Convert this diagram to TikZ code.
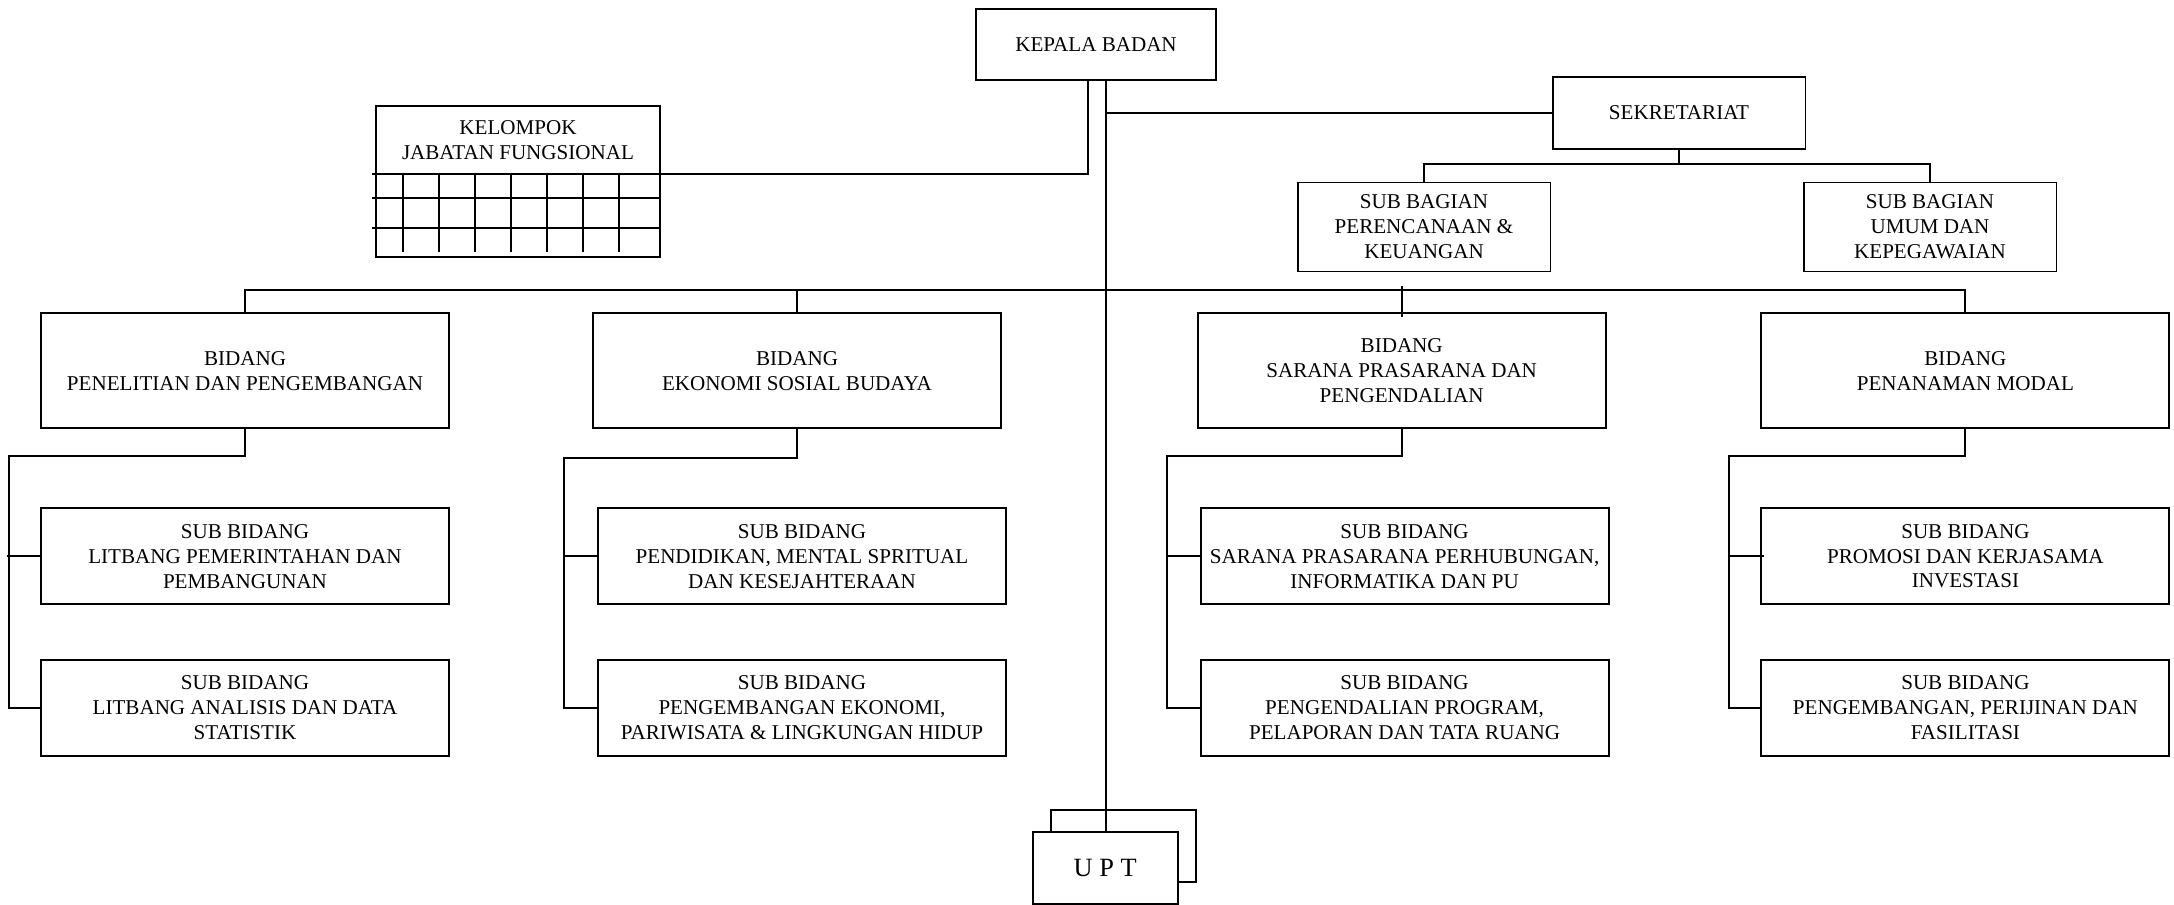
\documentclass[tikz,border=0pt]{standalone}
\usepackage{fontspec}
\setmainfont{Liberation Serif}
\usetikzlibrary{calc}

\begin{document}
\begin{tikzpicture}[x=0.02cm, y=-0.02cm,
    box/.style={draw, line width=1.1pt, outer sep=0pt, inner sep=1pt, fill=white, align=center, font=\fontsize{12}{14.2}\selectfont},
    bidbox/.style={box, minimum width=8.16cm, minimum height=2.3cm},
    subbox/.style={box, minimum width=8.16cm, minimum height=1.92cm},
    bagbox/.style={box, minimum width=5.06cm, minimum height=1.78cm},
    uptbox/.style={box, minimum width=2.9cm, minimum height=1.44cm, font=\fontsize{15}{18}\selectfont},
    link/.style={line width=1.1pt}]

    \useasboundingbox (0,0) rectangle (2174,904);

    \node[box, minimum width=4.8cm, minimum height=1.42cm] (kepala) at (1096,44.5) {KEPALA BADAN};
    \node[box, minimum width=5.06cm, minimum height=1.45cm] (sekretariat) at (1679,113) {SEKRETARIAT};
    \node[bagbox] (bagrenc) at (1424,227) {SUB BAGIAN\\PERENCANAAN \&\\KEUANGAN};
    \node[bagbox] (bagumum) at (1930,227) {SUB BAGIAN\\UMUM DAN\\KEPEGAWAIAN};
    \node[box, minimum width=5.69cm, minimum height=1.36cm] (kelompok) at (518,140) {KELOMPOK\\JABATAN FUNGSIONAL};

    \draw[link] (kelompok.south west) rectangle ($(kelompok.south east)+(0,82.7)$);
    \foreach \y in {24,53.7}
        \draw[link] ($(kelompok.south west)+(-4,\y)$) -- ($(kelompok.south east)+(0,\y)$);
    \foreach \x in {27,63,...,243}
        \draw[link] ($(kelompok.south west)+(\x,0)$) -- ++(0,78);

    \node[bidbox] (bidlitbang) at (245,370.7) {BIDANG\\PENELITIAN DAN PENGEMBANGAN};
    \node[bidbox] (bidekonomi) at (797,370.7) {BIDANG\\EKONOMI SOSIAL BUDAYA};
    \node[bidbox] (bidsarana) at (1401.7,370.7) {BIDANG\\SARANA PRASARANA DAN\\PENGENDALIAN};
    \node[bidbox] (bidmodal) at (1965.4,370.7) {BIDANG\\PENANAMAN MODAL};

    \node[subbox] (sublitpem) at (245,556.2) {SUB BIDANG\\LITBANG PEMERINTAHAN DAN\\PEMBANGUNAN};
    \node[subbox] (sublitdata) at (245,708) {SUB BIDANG\\LITBANG ANALISIS DAN DATA\\STATISTIK};
    \node[subbox] (subdidik) at (802,556.2) {SUB BIDANG\\PENDIDIKAN, MENTAL SPRITUAL\\DAN KESEJAHTERAAN};
    \node[subbox] (subpariwisata) at (802,708) {SUB BIDANG\\PENGEMBANGAN EKONOMI,\\PARIWISATA \& LINGKUNGAN HIDUP};
    \node[subbox] (subhubung) at (1404.6,556.2) {SUB BIDANG\\SARANA PRASARANA PERHUBUNGAN,\\INFORMATIKA DAN PU};
    \node[subbox] (subtataruang) at (1404.6,708) {SUB BIDANG\\PENGENDALIAN PROGRAM,\\PELAPORAN DAN TATA RUANG};
    \node[subbox] (subpromosi) at (1965.4,556.2) {SUB BIDANG\\PROMOSI DAN KERJASAMA\\INVESTASI};
    \node[subbox] (subperijinan) at (1965.4,708) {SUB BIDANG\\PENGEMBANGAN, PERIJINAN DAN\\FASILITASI};

    \node[uptbox] (uptbelakang) at (1123.4,846.4) {};
    \node[uptbox] (upt) at (1105.2,867.8) {U P T};

    \coordinate (cabang) at ($(kepala.south)+(-8,0)$);
    \coordinate (batang) at ($(kepala.south)+(10,0)$);

    \draw[link] (cabang) |- ($(kelompok.south west)+(-4,0)$);
    \draw[link] (batang) -- (batang |- upt.north);
    \draw[link] (batang |- sekretariat.west) -- (sekretariat.west);

    \draw[link] (sekretariat.south) -- ++(0,15);
    \draw[link] (bagrenc.north) |- ($(sekretariat.south)+(0,15)$) -| (bagumum.north);

    \draw[link] (bidlitbang.north) -- ++(0,-23) -| (bidmodal.north);
    \draw[link] (bidekonomi.north) -- ++(0,-23);
    \draw[link] ($(bidsarana.north)+(0,4)$) -- ++(0,-31);

    \draw[link] (bidlitbang.south) -- ++(0,28) -| ($(sublitdata.west)+(-32,0)$) -- (sublitdata.west);
    \draw[link] ($(sublitpem.west)+(-34,0)$) -- (sublitpem.west);
    \draw[link] (bidekonomi.south) -- ++(0,30) -| ($(subpariwisata.west)+(-34,0)$) -- (subpariwisata.west);
    \draw[link] ($(subdidik.west)+(-34,0)$) -- (subdidik.west);
    \draw[link] (bidsarana.south) -- ++(0,28) -| ($(subtataruang.west)+(-34,0)$) -- (subtataruang.west);
    \draw[link] ($(subhubung.west)+(-34,0)$) -- (subhubung.west);
    \draw[link] (bidmodal.south) -- ++(0,28) -| ($(subperijinan.west)+(-32,0)$) -- (subperijinan.west);
    \draw[link] ($(subpromosi.west)+(-32,0)$) -- ($(subpromosi.west)+(3,0)$);

\end{tikzpicture}
\end{document}
